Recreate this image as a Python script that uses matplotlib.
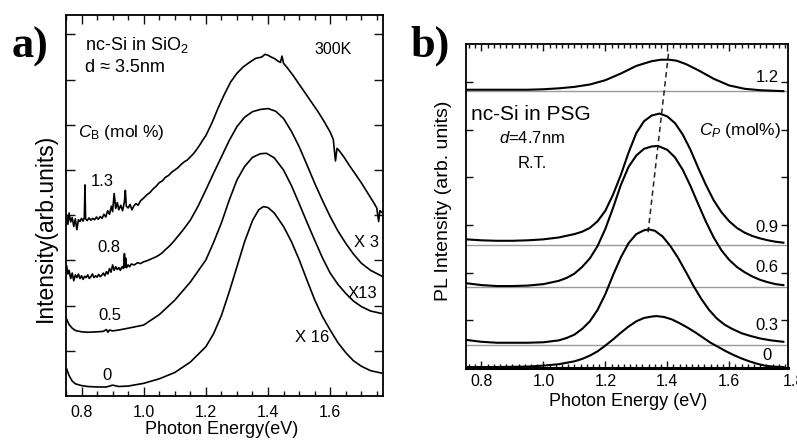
import matplotlib
matplotlib.use('Agg')
import matplotlib.pyplot as plt
from matplotlib.ticker import MultipleLocator, FixedLocator

plt.rcParams['font.family'] = ['Liberation Sans', 'DejaVu Sans']
plt.rcParams['mathtext.fontset'] = 'custom'
plt.rcParams['mathtext.rm'] = 'Liberation Sans'
plt.rcParams['mathtext.it'] = 'Liberation Sans:italic'
plt.rcParams['mathtext.bf'] = 'Liberation Sans:bold'

# ---------------- data: panel a (nc-Si in SiO2), offset intensities -------------
a_curve_0 = [(0.752, 0.60), (0.76, 0.45), (0.77, 0.33), (0.78, 0.27), (0.80, 0.23), (0.82, 0.21),
             (0.85, 0.20), (0.88, 0.20), (0.90, 0.24), (0.92, 0.21), (0.95, 0.22), (1.00, 0.28),
             (1.05, 0.38), (1.10, 0.52), (1.15, 0.75), (1.20, 1.09), (1.225, 1.38), (1.25, 1.78),
             (1.275, 2.30), (1.30, 2.86), (1.325, 3.42), (1.35, 3.88), (1.37, 4.12), (1.385, 4.19),
             (1.40, 4.17), (1.42, 4.05), (1.45, 3.75), (1.475, 3.42), (1.50, 3.02), (1.525, 2.57),
             (1.55, 2.13), (1.575, 1.76), (1.60, 1.46), (1.625, 1.18), (1.65, 0.96), (1.675, 0.78),
             (1.70, 0.66), (1.73, 0.56), (1.77, 0.50)]

a_curve_05 = [(0.752, 1.70), (0.76, 1.58), (0.77, 1.50), (0.78, 1.45), (0.80, 1.42), (0.82, 1.41),
              (0.85, 1.42), (0.87, 1.43), (0.88, 1.47), (0.885, 1.41), (0.89, 1.46), (0.90, 1.44),
              (0.92, 1.46), (0.95, 1.50), (1.00, 1.57), (1.05, 1.80), (1.10, 2.12), (1.15, 2.52),
              (1.20, 3.01), (1.225, 3.40), (1.25, 3.83), (1.275, 4.33), (1.30, 4.78), (1.325, 5.08),
              (1.35, 5.28), (1.375, 5.36), (1.395, 5.37), (1.42, 5.27), (1.45, 5.00), (1.475, 4.66),
              (1.50, 4.26), (1.525, 3.85), (1.55, 3.45), (1.575, 3.06), (1.60, 2.72), (1.625, 2.47),
              (1.65, 2.27), (1.675, 2.10), (1.70, 1.98), (1.73, 1.88), (1.77, 1.82)]

a_curve_08 = [(0.752, 2.88), (0.756, 2.70), (0.760, 2.78), (0.765, 2.60), (0.770, 2.72), (0.775, 2.55),
              (0.780, 2.68), (0.785, 2.62), (0.790, 2.70), (0.795, 2.60), (0.800, 2.66), (0.805, 2.58),
              (0.810, 2.65), (0.815, 2.62), (0.820, 2.68), (0.825, 2.60), (0.830, 2.64), (0.835, 2.70),
              (0.840, 2.62), (0.845, 2.66), (0.850, 2.63), (0.855, 2.69), (0.860, 2.64), (0.865, 2.67),
              (0.870, 2.72), (0.875, 2.66), (0.880, 2.75), (0.885, 2.70), (0.890, 2.82), (0.895, 2.74),
              (0.900, 2.90), (0.905, 2.78), (0.910, 2.86), (0.915, 2.80), (0.920, 2.84), (0.925, 2.78),
              (0.930, 2.86), (0.935, 2.82), (0.938, 3.15), (0.940, 2.85), (0.942, 3.05), (0.945, 2.84),
              (0.950, 2.90), (0.955, 2.86), (0.960, 2.92), (0.970, 2.90), (0.980, 2.95), (0.990, 2.93),
              (1.000, 2.97), (1.010, 2.99), (1.020, 3.02), (1.030, 3.05), (1.040, 3.08), (1.050, 3.12),
              (1.060, 3.17), (1.070, 3.24), (1.080, 3.30), (1.090, 3.37), (1.100, 3.45), (1.125, 3.66),
              (1.150, 3.89), (1.175, 4.20), (1.200, 4.56), (1.225, 4.93), (1.250, 5.29), (1.275, 5.65),
              (1.300, 5.96), (1.325, 6.17), (1.350, 6.29), (1.375, 6.34), (1.400, 6.36), (1.425, 6.30),
              (1.450, 6.14), (1.475, 5.86), (1.500, 5.52), (1.525, 5.12), (1.550, 4.71), (1.575, 4.33),
              (1.600, 3.97), (1.625, 3.65), (1.650, 3.38), (1.675, 3.14), (1.700, 2.94), (1.730, 2.78),
              (1.770, 2.64)]

a_curve_13 = [(0.752, 4.00), (0.756, 3.80), (0.760, 4.05), (0.765, 3.85), (0.770, 3.95), (0.775, 3.75),
              (0.780, 3.92), (0.785, 3.68), (0.790, 3.90), (0.795, 3.86), (0.800, 3.93), (0.805, 3.87),
              (0.809, 3.95), (0.811, 4.67), (0.813, 3.92), (0.818, 3.88), (0.824, 3.94), (0.830, 3.89),
              (0.836, 3.93), (0.842, 3.90), (0.848, 3.96), (0.854, 3.91), (0.860, 3.97), (0.866, 3.93),
              (0.872, 4.02), (0.878, 3.96), (0.884, 4.10), (0.890, 4.02), (0.896, 4.20), (0.900, 4.08),
              (0.905, 4.48), (0.910, 4.15), (0.915, 4.28), (0.920, 4.12), (0.926, 4.22), (0.932, 4.10),
              (0.938, 4.30), (0.941, 4.55), (0.944, 4.20), (0.950, 4.16), (0.956, 4.24), (0.962, 4.12),
              (0.968, 4.20), (0.975, 4.26), (0.982, 4.22), (0.990, 4.32), (1.000, 4.38), (1.010, 4.45),
              (1.020, 4.50), (1.030, 4.58), (1.040, 4.64), (1.050, 4.72), (1.060, 4.76), (1.070, 4.84),
              (1.080, 4.88), (1.090, 4.95), (1.100, 5.00), (1.110, 5.05), (1.120, 5.12), (1.130, 5.18),
              (1.140, 5.22), (1.150, 5.29), (1.160, 5.36), (1.170, 5.45), (1.180, 5.55), (1.190, 5.66),
              (1.200, 5.76), (1.220, 6.05), (1.240, 6.38), (1.260, 6.68), (1.280, 6.95), (1.300, 7.14),
              (1.320, 7.28), (1.340, 7.38), (1.360, 7.47), (1.380, 7.50), (1.390, 7.56), (1.400, 7.54),
              (1.410, 7.50), (1.420, 7.47), (1.430, 7.42), (1.440, 7.38), (1.445, 7.52), (1.450, 7.36),
              (1.460, 7.28), (1.480, 7.10), (1.500, 6.90), (1.520, 6.70), (1.540, 6.50), (1.560, 6.30),
              (1.580, 6.08), (1.600, 5.84), (1.610, 5.68), (1.617, 5.20), (1.622, 5.48), (1.630, 5.42),
              (1.645, 5.28), (1.660, 5.12), (1.680, 4.92), (1.700, 4.72), (1.720, 4.50), (1.740, 4.28),
              (1.750, 4.16), (1.756, 3.86), (1.760, 4.10), (1.770, 4.04)]

a_curve_labels = ['1.3', '0.8', '0.5', '0']
a_factor_labels = ['X 3', 'X13', 'X 16']

# ---------------- data: panel b (nc-Si in PSG), offset intensities ---------------
b_curve_0 = [(0.75, 0.02), (0.85, 0.02), (0.95, 0.03), (1.00, 0.05), (1.05, 0.08), (1.10, 0.14),
             (1.125, 0.19), (1.15, 0.26), (1.175, 0.35), (1.20, 0.47), (1.225, 0.60), (1.25, 0.74),
             (1.275, 0.87), (1.30, 0.98), (1.325, 1.05), (1.35, 1.08), (1.365, 1.09), (1.39, 1.07),
             (1.415, 1.02), (1.44, 0.94), (1.465, 0.85), (1.49, 0.75), (1.515, 0.64), (1.54, 0.53),
             (1.565, 0.44), (1.59, 0.35), (1.615, 0.27), (1.64, 0.20), (1.665, 0.14), (1.69, 0.09),
             (1.715, 0.05), (1.74, 0.03), (1.775, 0.02)]

b_curve_03 = [(0.75, 0.59), (0.80, 0.55), (0.85, 0.53), (0.90, 0.53), (0.95, 0.53), (1.00, 0.54),
              (1.05, 0.58), (1.075, 0.63), (1.10, 0.70), (1.125, 0.82), (1.15, 0.98), (1.175, 1.22),
              (1.20, 1.55), (1.225, 1.95), (1.25, 2.32), (1.275, 2.62), (1.30, 2.81), (1.325, 2.89),
              (1.34, 2.91), (1.36, 2.88), (1.385, 2.76), (1.41, 2.56), (1.435, 2.31), (1.46, 2.02),
              (1.485, 1.72), (1.51, 1.45), (1.535, 1.22), (1.56, 1.04), (1.585, 0.91), (1.61, 0.82),
              (1.64, 0.73), (1.67, 0.67), (1.70, 0.62), (1.735, 0.58), (1.775, 0.55)]

b_curve_06 = [(0.75, 1.78), (0.80, 1.74), (0.85, 1.72), (0.90, 1.72), (0.95, 1.73), (1.00, 1.76),
              (1.05, 1.83), (1.075, 1.89), (1.10, 1.98), (1.125, 2.12), (1.15, 2.30), (1.175, 2.56),
              (1.20, 2.92), (1.225, 3.36), (1.25, 3.84), (1.275, 4.22), (1.30, 4.46), (1.325, 4.60),
              (1.35, 4.65), (1.37, 4.66), (1.40, 4.58), (1.425, 4.42), (1.45, 4.16), (1.475, 3.82),
              (1.50, 3.44), (1.525, 3.07), (1.55, 2.74), (1.575, 2.47), (1.60, 2.27), (1.625, 2.12),
              (1.65, 2.01), (1.675, 1.92), (1.70, 1.85), (1.725, 1.80), (1.75, 1.76), (1.775, 1.74)]

b_curve_09 = [(0.75, 2.70), (0.80, 2.68), (0.85, 2.67), (0.90, 2.67), (0.95, 2.68), (1.00, 2.70),
              (1.05, 2.74), (1.10, 2.81), (1.125, 2.86), (1.15, 2.94), (1.175, 3.08), (1.20, 3.30),
              (1.225, 3.64), (1.25, 4.05), (1.275, 4.52), (1.30, 4.93), (1.325, 5.18), (1.35, 5.30),
              (1.375, 5.34), (1.40, 5.28), (1.425, 5.14), (1.45, 4.90), (1.475, 4.58), (1.50, 4.20),
              (1.525, 3.84), (1.55, 3.52), (1.575, 3.27), (1.60, 3.08), (1.625, 2.94), (1.65, 2.84),
              (1.675, 2.77), (1.70, 2.72), (1.725, 2.68), (1.75, 2.65), (1.775, 2.63)]

b_curve_12 = [(0.75, 5.84), (0.85, 5.84), (0.95, 5.84), (1.00, 5.85), (1.05, 5.87), (1.10, 5.90),
              (1.15, 5.95), (1.20, 6.04), (1.25, 6.18), (1.30, 6.34), (1.35, 6.44), (1.38, 6.47),
              (1.406, 6.47), (1.43, 6.45), (1.46, 6.38), (1.50, 6.25), (1.55, 6.07), (1.60, 5.93),
              (1.65, 5.86), (1.70, 5.83), (1.775, 5.81)]

b_baselines = [5.81, 2.59, 1.70, 0.48]
b_peak_trend = [(1.338, 2.85), (1.404, 6.60)]
b_curve_labels = ['1.2', '0.9', '0.6', '0.3', '0']

x_ticks = [0.8, 1.0, 1.2, 1.4, 1.6]
x_ticklabels = ['0.8', '1.0', '1.2', '1.4', '1.6']

# ---------------- figure ----------------
W, H = 797, 441
fig = plt.figure(figsize=(W / 100, H / 100), dpi=100)


def fx(px):
    return px / W


def fy(py):
    return 1 - py / H


axA = fig.add_axes([fx(66), fy(396), fx(383) - fx(66), fy(15) - fy(396)])
axB = fig.add_axes([fx(466), fy(368), fx(788) - fx(466), fy(44) - fy(368)])


def unzip(pts):
    return [p[0] for p in pts], [p[1] for p in pts]


for c in (a_curve_0, a_curve_05, a_curve_08, a_curve_13):
    xs, ys = unzip(c)
    axA.plot(xs, ys, color='black', lw=1.2, solid_joinstyle='round')

for yb in b_baselines:
    axB.axhline(yb, color='#9a9a9a', lw=1.0, zorder=1)
for c in (b_curve_0, b_curve_03, b_curve_06, b_curve_09, b_curve_12):
    xs, ys = unzip(c)
    axB.plot(xs, ys, color='black', lw=1.5, zorder=3)
xs, ys = unzip(b_peak_trend)
axB.plot(xs, ys, color='#222222', lw=1.1, ls=(0, (3.5, 2.5)), zorder=2)

# axes styling
axA.set_xlim(0.75, 1.77)
axA.set_ylim(0, 8.43)
axB.set_xlim(0.75, 1.79)
axB.set_ylim(0, 6.8)

for ax, minor in ((axA, 0.05), (axB, 0.02)):
    ax.xaxis.set_major_locator(FixedLocator(x_ticks))
    ax.set_xticklabels(x_ticklabels)
    ax.xaxis.set_minor_locator(MultipleLocator(minor))
    ax.tick_params(which='both', direction='in', top=True, right=True, labelleft=False,
                   labelsize=11.5, width=1.0, color='#111111')

axA.tick_params(axis='x', which='major', pad=6.5)
axB.tick_params(axis='x', which='major', pad=4.5)

axA.yaxis.set_major_locator(FixedLocator([1, 2, 3, 4, 5, 6, 7, 8]))
axA.tick_params(which='major', length=6.5)
axA.tick_params(which='minor', length=3.5)
axB.yaxis.set_major_locator(FixedLocator([1, 2, 3, 4, 5, 6]))
axB.tick_params(which='major', length=5)
axB.tick_params(which='minor', length=3)

for s in axA.spines.values():
    s.set_linewidth(1.3)
for s in axB.spines.values():
    s.set_linewidth(1.3)
axB.spines['bottom'].set_linewidth(2.2)

# ---------------- texts panel a ----------------
fig.text(fx(30), fy(47), 'a)', family='Liberation Serif', weight='bold', fontsize=32,
         ha='center', va='center')
fig.text(fx(85), fy(45), 'nc-Si in SiO$_2$', fontsize=13, ha='left', va='center')
fig.text(fx(85), fy(68), 'd \u2248 3.5nm', fontsize=13, ha='left', va='center')
fig.text(fx(333), fy(50), '300K', fontsize=11.5, ha='center', va='center')
fig.text(fx(78), fy(133), r'$C_{\rm B}$ (mol %)', fontsize=12.5, ha='left', va='center')
for lab, (px, py) in zip(a_curve_labels, [(102, 182), (109, 248), (110, 315), (107, 375)]):
    fig.text(fx(px), fy(py), lab, fontsize=12, ha='center', va='center')
for lab, (px, py) in zip(a_factor_labels, [(367, 243), (362, 293), (312, 337)]):
    fig.text(fx(px), fy(py), lab, fontsize=12, ha='center', va='center')
fig.text(fx(222), fy(430), 'Photon Energy(eV)', fontsize=13, ha='center', va='center')
fig.text(fx(45), fy(228), 'Intensity(arb.units)', fontsize=16.5, rotation=90,
         ha='center', va='center')

# ---------------- texts panel b ----------------
fig.text(fx(430), fy(46), 'b)', family='Liberation Serif', weight='bold', fontsize=32,
         ha='center', va='center')
fig.text(fx(531), fy(115), 'nc-Si in PSG', fontsize=15, ha='center', va='center')
fig.text(fx(532), fy(138), '$d$=4.7nm', fontsize=12, ha='center', va='center')
fig.text(fx(532), fy(163), 'R.T.', fontsize=12, ha='center', va='center')
fig.text(fx(740), fy(130), r'$C_P$ (mol%)', fontsize=12.5, ha='center', va='center')
for lab, py in zip(b_curve_labels, [78, 228, 268, 325, 356]):
    fig.text(fx(767), fy(py), lab, fontsize=12, ha='center', va='center')
fig.text(fx(794), fy(381), '1.8', fontsize=11.5, ha='center', va='center')
fig.text(fx(628), fy(401), 'Photon Energy (eV)', fontsize=13, ha='center', va='center')
fig.text(fx(443), fy(201), 'PL Intensity (arb. units)', fontsize=14, rotation=90,
         ha='center', va='center')

fig.savefig('out.png', dpi=100)
